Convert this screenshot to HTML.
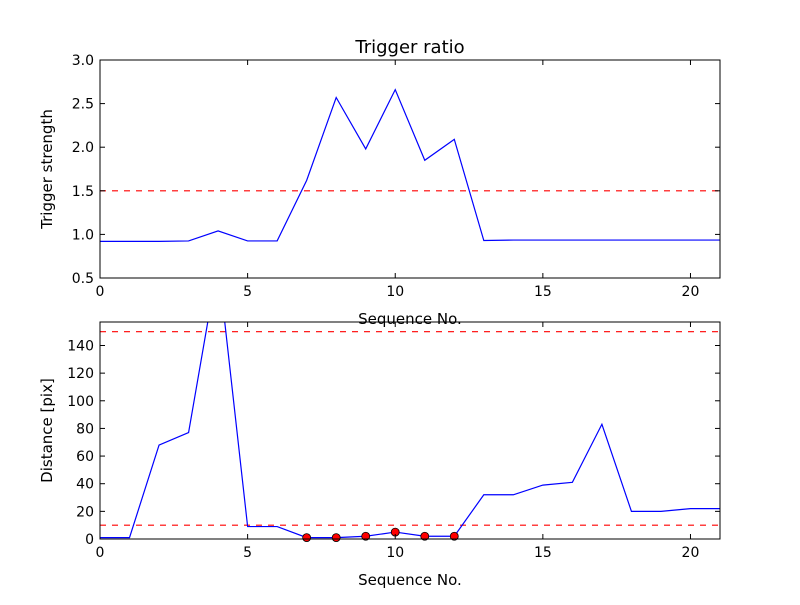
<!DOCTYPE html>
<html><head><meta charset="utf-8"><style>
body{margin:0;background:#fff}
svg text{font-family:"DejaVu Sans","Liberation Sans",sans-serif;fill:#000}
</style></head><body>
<svg id="c" width="800" height="600" xmlns="http://www.w3.org/2000/svg"></svg>
<script>
const seq=[0,1,2,3,4,5,6,7,8,9,10,11,12,13,14,15,16,17,18,19,20,21];
const ratio=[0.92,0.92,0.92,0.925,1.04,0.925,0.925,1.62,2.57,1.98,2.66,1.85,2.09,0.93,0.935,0.935,0.935,0.935,0.935,0.935,0.935,0.935];
const dist=[1,1,68,77,200,9,9,1,1,2,5,2,2,32,32,39,41,83,20,20,22,22];
const triggerIdx=[7,8,9,10,11,12];
const ratioThresh=[1.5];
const distThresh=[10,150];
const xTicks=[0,5,10,15,20];
const yTicksTop=[0.5,1.0,1.5,2.0,2.5,3.0];
const yTicksBot=[0,20,40,60,80,100,120,140];
const NS="http://www.w3.org/2000/svg";
const svg=document.getElementById('c');
function el(t,a,p){const e=document.createElementNS(NS,t);for(const k in a)e.setAttribute(k,a[k]);(p||svg).appendChild(e);return e;}
function panel(top,bot,ymin,ymax,yt,fmt,data,th,ylab,title,clipId,dots){
 const L=100,R=720;
 const sx=v=>L+(v-0)/21*(R-L);
 const sy=v=>bot-(v-ymin)/(ymax-ymin)*(bot-top);
 const defs=el('defs',{});const cp=el('clipPath',{id:clipId},defs);el('rect',{x:L,y:top,width:R-L,height:bot-top},cp);
 const g=el('g',{'clip-path':'url(#'+clipId+')'});
 th.forEach(t=>{const l=el('line',{x1:L,x2:R,y1:sy(t),y2:sy(t),stroke:'#f00','stroke-dasharray':'6,6','stroke-width':1.2},g);
  
  });
 const p=el('polyline',{points:seq.map((x,i)=>sx(x)+','+sy(data[i])).join(' '),fill:'none',stroke:'#00f','stroke-width':1.2},g);
 
 
 if(dots)dots.forEach(i=>{const c=el('circle',{cx:sx(seq[i]),cy:sy(data[i]),r:4,fill:'#f00',stroke:'#000','stroke-width':0.8});
  
  });
 const fr=el('rect',{x:L,y:top,width:R-L,height:bot-top,fill:'none',stroke:'#000','stroke-width':1});
 
 
 xTicks.forEach(t=>{const x=sx(t);el('line',{x1:x,x2:x,y1:bot,y2:bot-5,stroke:'#000'});el('line',{x1:x,x2:x,y1:top,y2:top+5,stroke:'#000'});
  const tx=el('text',{x:x,y:bot+18,'text-anchor':'middle','font-size':14});tx.textContent=t;
  
  });
 yt.forEach(t=>{const y=sy(t);el('line',{x1:L,x2:L+5,y1:y,y2:y,stroke:'#000'});el('line',{x1:R,x2:R-5,y1:y,y2:y,stroke:'#000'});
  const tx=el('text',{x:L-6,y:y+5,'text-anchor':'end','font-size':14});tx.textContent=fmt(t);
  
  });
 const xl=el('text',{x:410,y:bot+46,'text-anchor':'middle','font-size':15});xl.textContent='Sequence No.';
 
 
 const yl=el('text',{x:0,y:0,'text-anchor':'middle','font-size':15,transform:'translate(52,'+((top+bot)/2)+') rotate(-90)'});yl.textContent=ylab;
 
 
 if(title){const ti=el('text',{x:410,y:top-7,'text-anchor':'middle','font-size':18});ti.textContent=title;
  
  }
}
panel(60,278,0.5,3.0,yTicksTop,v=>v.toFixed(1),ratio,ratioThresh,'Trigger strength','Trigger ratio','c1',null);
panel(322,539,0,157,yTicksBot,v=>String(v),dist,distThresh,'Distance [pix]',null,'c2',triggerIdx);
</script>
</body></html>
